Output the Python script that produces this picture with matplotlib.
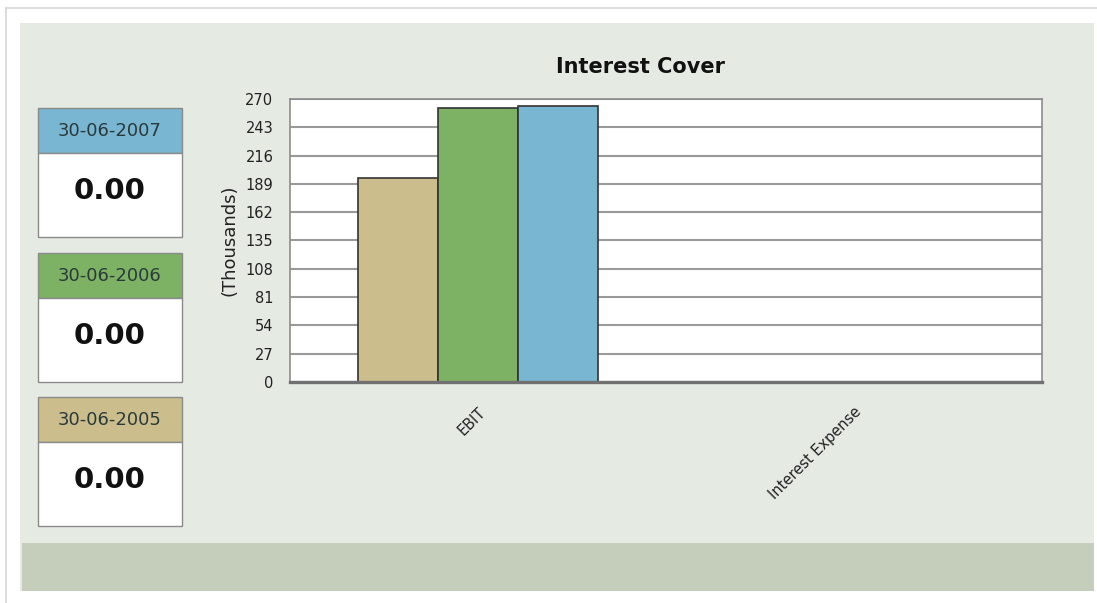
import matplotlib.pyplot as plt
from matplotlib.patches import Rectangle
import numpy as np

W, H = 1097, 603

categories = ['EBIT', 'Interest Expense']
periods = ['30-06-2005', '30-06-2006', '30-06-2007']
values = [[194.6, 0.0], [261.0, 0.0], [263.6, 0.0]]
ratios = ['0.00', '0.00', '0.00']
colors = ['#cbbd8c', '#7db265', '#78b6d2']
yticks = [0, 27, 54, 81, 108, 135, 162, 189, 216, 243, 270]


def px(x0, y0, x1, y1):
    # pixel box (top-left origin) -> figure fraction rect
    return [x0 / W, 1 - y1 / H, (x1 - x0) / W, (y1 - y0) / H]


def frect(fig, x0, y0, x1, y1, **kw):
    l, b, w, h = px(x0, y0, x1, y1)
    fig.patches.append(Rectangle((l, b), w, h, transform=fig.transFigure, **kw))


fig = plt.figure(figsize=(W / 100, H / 100), dpi=100, facecolor='white')

# outer frame and panels
fig.add_artist(plt.Line2D([6 / W, 1], [1 - 8 / H, 1 - 8 / H], color='#d4d8d4', lw=1.2))
fig.add_artist(plt.Line2D([6 / W, 6 / W], [0, 1 - 8 / H], color='#d4d8d4', lw=1.2))
frect(fig, 20, 23, 1094, 591, facecolor='#e5eae3', edgecolor='none', zorder=0)
frect(fig, 22, 543, 1094, 591, facecolor='#c5cdbb', edgecolor='none', zorder=0)

# period boxes on the left (latest on top)
tops = [397, 253, 108]
for i in range(3):
    t = tops[i]
    frect(fig, 38, t, 182, t + 45, facecolor=colors[i], edgecolor='#8a8a8a', lw=1, zorder=1)
    frect(fig, 38, t + 45, 182, t + 129, facecolor='white', edgecolor='#8a8a8a', lw=1, zorder=1)
    fig.text(110 / W, 1 - (t + 23) / H, periods[i], ha='center', va='center',
             fontsize=13, color='#2a3a3a')
    fig.text(110 / W, 1 - (t + 83) / H, ratios[i], ha='center', va='center',
             fontsize=21, fontweight='bold', color='#111111')

fig.text(640 / W, 1 - 67 / H, 'Interest Cover', ha='center', va='center',
         fontsize=15, fontweight='bold', color='#111111')

ax = fig.add_axes(px(290, 99, 1042, 382))
ax.set_zorder(3)
ax.set_facecolor('white')

x = np.arange(len(categories))
bw = 0.213
for i in range(3):
    ax.bar(x + (i - 1) * bw, values[i], bw, color=colors[i], edgecolor='#333333',
           linewidth=1.2, zorder=3)

ax.set_xlim(-0.5, 1.5)
ax.set_ylim(0, 270)
ax.set_yticks(yticks)
ax.tick_params(axis='y', length=0, labelsize=10.5, pad=12, colors='#222222')
ax.set_xticks(x)
ax.set_xticklabels(categories, rotation=45, ha='right', va='top', rotation_mode='anchor')
ax.tick_params(axis='x', length=0, labelsize=10.5, pad=16, colors='#222222')
ax.grid(axis='y', color='#9a9a9a', lw=1.5, zorder=1)
for s in ('top', 'right', 'left'):
    ax.spines[s].set_color('#8c8c8c')
    ax.spines[s].set_linewidth(1.2)
ax.spines['bottom'].set_color('#707070')
ax.spines['bottom'].set_linewidth(2.4)
ax.spines['bottom'].set_zorder(5)
ax.set_ylabel('(Thousands)', fontsize=13, color='#222222', labelpad=5)

fig.savefig('out.png', dpi=100, facecolor='white')
